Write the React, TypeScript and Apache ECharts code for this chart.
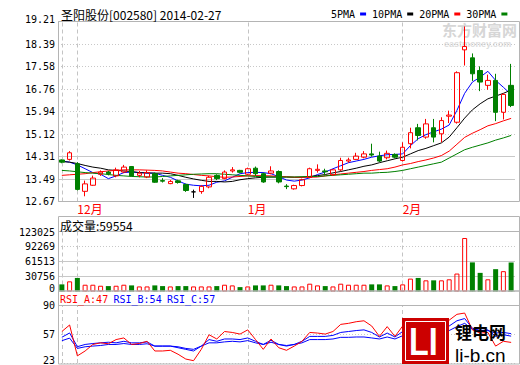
import React, { useEffect, useRef } from "react";
import * as echarts from "echarts";

const stockName = "圣阳股份";
const stockCode = "002580";

const dates = [
  "2013-11-28", "2013-11-29",
  "2013-12-02", "2013-12-03", "2013-12-04", "2013-12-05", "2013-12-06",
  "2013-12-09", "2013-12-10", "2013-12-11", "2013-12-12", "2013-12-13",
  "2013-12-16", "2013-12-17", "2013-12-18", "2013-12-19", "2013-12-20",
  "2013-12-23", "2013-12-24", "2013-12-25", "2013-12-26", "2013-12-27",
  "2013-12-30", "2013-12-31",
  "2014-01-02", "2014-01-03", "2014-01-06", "2014-01-07", "2014-01-08",
  "2014-01-09", "2014-01-10", "2014-01-13", "2014-01-14", "2014-01-15",
  "2014-01-16", "2014-01-17", "2014-01-20", "2014-01-21", "2014-01-22",
  "2014-01-23", "2014-01-24", "2014-01-27", "2014-01-28", "2014-01-29",
  "2014-02-07", "2014-02-10", "2014-02-11", "2014-02-12", "2014-02-13",
  "2014-02-14", "2014-02-17", "2014-02-18", "2014-02-19", "2014-02-20",
  "2014-02-21", "2014-02-24", "2014-02-25", "2014-02-26", "2014-02-27",
];

const opens = [14.18, 14.20, 14.04, 13.04, 13.26, 13.66, 13.74, 13.60, 13.74, 13.94,
  13.62, 13.56, 13.68, 13.43, 13.32, 13.42, 13.29, 13.02, 13.03, 13.20,
  13.62, 13.50, 13.78, 13.80, 13.66, 13.88, 13.68, 13.70, 13.76, 13.23,
  13.13, 13.25, 13.55, 13.80, 13.78, 13.64, 13.82, 14.14, 14.20, 14.28,
  14.40, 14.32, 14.26, 14.38, 14.16, 14.77, 15.35, 15.01, 15.35, 15.13,
  15.77, 15.55, 18.18, 17.89, 17.43, 16.89, 17.07, 15.91, 16.89];
const closes = [14.10, 14.44, 13.11, 13.31, 13.52, 13.74, 13.68, 13.82, 13.92, 13.60,
  13.70, 13.72, 13.37, 13.41, 13.40, 13.36, 13.07, 13.02, 13.22, 13.55,
  13.50, 13.74, 13.82, 13.73, 13.86, 13.68, 13.38, 13.78, 13.38, 13.21,
  13.25, 13.46, 13.86, 13.84, 13.75, 13.82, 14.16, 14.18, 14.32, 14.40,
  14.36, 14.14, 14.42, 14.28, 14.64, 15.17, 15.07, 15.49, 15.01, 15.61,
  15.81, 17.35, 18.30, 17.31, 17.01, 17.07, 15.91, 16.56, 16.16];
const lows = [14.06, 14.16, 13.07, 12.86, 13.24, 13.60, 13.62, 13.55, 13.70, 13.58,
  13.55, 13.52, 13.35, 13.36, 13.30, 13.32, 13.02, 12.80, 12.95, 13.15,
  13.45, 13.48, 13.72, 13.70, 13.62, 13.60, 13.35, 13.66, 13.33, 13.12,
  13.10, 13.22, 13.52, 13.72, 13.62, 13.60, 13.78, 14.08, 14.18, 14.24,
  14.30, 14.10, 14.20, 14.24, 14.12, 14.60, 14.89, 14.95, 14.82, 14.82,
  15.52, 15.50, 17.61, 17.05, 16.68, 16.73, 15.59, 15.65, 16.10];
const highs = [14.20, 14.50, 14.10, 13.43, 13.61, 13.80, 13.78, 13.90, 14.00, 13.96,
  13.78, 13.80, 13.72, 13.52, 13.45, 13.46, 13.32, 13.10, 13.26, 13.60,
  13.66, 13.80, 13.92, 13.82, 13.90, 13.94, 13.72, 13.95, 13.80, 13.30,
  13.28, 13.50, 13.90, 14.02, 13.86, 13.85, 14.26, 14.26, 14.44, 14.50,
  14.77, 14.48, 14.52, 14.42, 14.82, 15.35, 15.49, 15.67, 15.67, 15.73,
  15.97, 17.40, 19.03, 18.05, 17.58, 17.28, 17.31, 16.60, 17.67];

const volumes = [14600, 20800, 27800, 13900, 13900, 11800, 11100, 11800, 13900, 12500,
  10400, 10400, 12500, 11100, 10400, 11100, 11100, 10400, 10400, 10400,
  11100, 13900, 12500, 9000, 10400, 12500, 12500, 13900, 12500, 11100,
  10400, 10400, 16000, 12500, 11100, 10400, 16000, 13900, 13900, 13900,
  14600, 14600, 12500, 11100, 14600, 26400, 27800, 22900, 22900, 22900,
  25000, 36800, 109700, 59700, 38200, 25000, 45800, 41700, 59554];

const ma5 = [14.14, 14.10, 14.00, 13.86, 13.72, 13.66, 13.50, 13.60, 13.72, 13.74,
  13.72, 13.70, 13.70, 13.62, 13.55, 13.42, 13.30, 13.26, 13.24, 13.26,
  13.37, 13.42, 13.55, 13.68, 13.72, 13.73, 13.72, 13.68, 13.57, 13.45,
  13.41, 13.45, 13.53, 13.65, 13.74, 13.86, 13.97, 14.08, 14.14, 14.20,
  14.28, 14.33, 14.37, 14.38, 14.40, 14.70, 14.95, 15.10, 15.20, 15.30,
  15.45, 15.98, 16.60, 17.01, 17.19, 17.40, 17.07, 16.82, 16.56];
const ma10 = [14.12, 14.10, 14.05, 13.98, 13.92, 13.88, 13.82, 13.80, 13.78, 13.76,
  13.72, 13.71, 13.70, 13.70, 13.68, 13.62, 13.55, 13.49, 13.44, 13.40,
  13.40, 13.38, 13.40, 13.46, 13.50, 13.53, 13.55, 13.56, 13.56, 13.56,
  13.55, 13.55, 13.58, 13.61, 13.65, 13.71, 13.76, 13.82, 13.88, 13.95,
  14.00, 14.08, 14.15, 14.22, 14.28, 14.40, 14.52, 14.60, 14.70, 14.80,
  15.01, 15.35, 15.70, 16.00, 16.22, 16.40, 16.50, 16.60, 16.72];
const ma20 = [13.62, 13.64, 13.66, 13.68, 13.72, 13.75, 13.78, 13.80, 13.82, 13.82,
  13.82, 13.81, 13.80, 13.78, 13.74, 13.70, 13.68, 13.65, 13.62, 13.60,
  13.57, 13.55, 13.56, 13.58, 13.60, 13.61, 13.61, 13.60, 13.58, 13.57,
  13.55, 13.55, 13.55, 13.56, 13.60, 13.64, 13.67, 13.70, 13.73, 13.76,
  13.80, 13.83, 13.86, 13.92, 14.00, 14.05, 14.12, 14.18, 14.25, 14.34,
  14.50, 14.75, 15.00, 15.15, 15.28, 15.42, 15.50, 15.60, 15.69];
const ma30 = [13.80, 13.78, 13.75, 13.72, 13.70, 13.68, 13.65, 13.62, 13.60, 13.58,
  13.57, 13.56, 13.56, 13.58, 13.60, 13.62, 13.64, 13.66, 13.67, 13.68,
  13.68, 13.66, 13.64, 13.62, 13.60, 13.58, 13.57, 13.56, 13.56, 13.56,
  13.56, 13.57, 13.58, 13.58, 13.60, 13.62, 13.64, 13.66, 13.68, 13.70,
  13.70, 13.72, 13.73, 13.76, 13.80, 13.86, 13.92, 13.98, 14.04, 14.10,
  14.25, 14.40, 14.55, 14.64, 14.72, 14.80, 14.90, 14.98, 15.07];

const rsiA = [59.7, 67.3, 31.3, 37.0, 44.6, 46.5, 45.4, 50.3, 52.2, 44.6,
  45.7, 48.3, 37.0, 37.0, 37.8, 33.2, 27.6, 25.7, 38.9, 55.9,
  51.0, 59.7, 58.6, 56.7, 61.6, 50.3, 38.9, 51.0, 40.8, 37.8,
  42.7, 48.3, 58.6, 57.9, 56.7, 59.7, 68.0, 69.2, 71.1, 72.2,
  66.1, 54.0, 65.4, 54.0, 66.1, 70.0, 65.0, 72.0, 66.0, 73.0,
  72.9, 79.7, 81.2, 61.6, 57.9, 58.6, 42.7, 48.3, 47.0];
const rsiB = [53.0, 58.0, 42.0, 44.6, 45.7, 46.5, 47.2, 46.5, 48.3, 46.5,
  46.5, 47.6, 42.7, 42.7, 42.7, 40.8, 38.9, 37.0, 42.7, 50.3,
  48.3, 51.0, 51.0, 50.3, 52.2, 48.3, 44.6, 49.5, 44.6, 42.7,
  44.6, 48.3, 54.0, 54.0, 54.0, 55.2, 58.6, 59.7, 60.8, 61.6,
  58.6, 53.3, 57.9, 53.3, 59.7, 62.0, 60.0, 63.0, 61.0, 64.0,
  66.1, 72.2, 74.8, 63.5, 60.8, 61.6, 54.0, 55.9, 54.3];
const rsiC = [49.0, 52.0, 40.0, 41.9, 42.7, 43.4, 44.6, 44.6, 45.7, 44.6,
  44.6, 45.4, 42.7, 42.7, 42.7, 41.9, 40.0, 38.9, 42.7, 46.5,
  46.5, 47.6, 48.3, 47.6, 49.1, 46.5, 44.6, 47.2, 44.6, 43.4,
  44.6, 46.5, 50.3, 50.3, 50.3, 51.0, 52.9, 52.9, 53.3, 53.3,
  52.2, 51.0, 53.3, 51.0, 54.8, 56.0, 55.0, 57.0, 56.0, 58.0,
  60.8, 65.4, 69.2, 62.4, 60.8, 60.8, 57.9, 58.6, 57.2];

const priceTicks = ["12.67", "13.49", "14.31", "15.12", "15.94", "16.76", "17.58", "18.39", "19.21"];
const volumeTicks = ["0", "30756", "61513", "92269", "123025"];
const rsiTicks = ["23", "57", "90"];
const maNames = ["5PMA", "10PMA", "20PMA", "30PMA"];
const rsiNames = ["RSI_A", "RSI_B", "RSI_C"];

const MONO = "DejaVu Sans Mono";
const CJK = "Noto Sans CJK SC";
const RED = "#ff0000";
const GREEN = "#008000";
const BLUE = "#0000ff";
const GRID_LEFT = 58;
const GRID_W = 457;
const BOX_RIGHT = 519;
const FRAME = "#b4b4b4";
const GRIDLINE = "#c8c8c8";

function axisFrom(ticks: string[]) {
  const min = parseFloat(ticks[0]);
  const max = parseFloat(ticks[ticks.length - 1]);
  const interval = (max - min) / (ticks.length - 1);
  return { min, max, interval };
}

function makeFormatter(ticks: string[], shiftUp: Record<number, number>) {
  const { min, interval } = axisFrom(ticks);
  return (v: number) => {
    const k = Math.round((v - min) / interval);
    const t = ticks[k] ?? "";
    const s = shiftUp[k];
    if (s === undefined) return t;
    return s > 0 ? `{u${s}|${t}}` : `{d${-s}|${t}}`;
  };
}

const richShift: Record<string, any> = {};
for (let s = 1; s <= 12; s++) {
  richShift["u" + s] = { padding: [0, 0, s * 2, 0], fontFamily: MONO, fontSize: 10, color: "#000" };
  richShift["d" + s] = { padding: [s * 2, 0, 0, 0], fontFamily: MONO, fontSize: 10, color: "#000" };
}

function buildOption() {
  const monthOf = (d: string) => parseInt(d.slice(5, 7), 10);
  const monthStarts = dates
    .map((d, i) => (i === 0 || monthOf(d) !== monthOf(dates[i - 1]) ? i : -1))
    .filter((i) => i >= 0);
  const labelIdx = monthStarts.filter((i) => i > 0);

  const pAx = axisFrom(priceTicks);
  const vAx = axisFrom(volumeTicks);
  const rAx = axisFrom(rsiTicks);

  const vLines = monthStarts.map((i) => ({ xAxis: dates[i] }));
  const dashStyle = { color: "#c4c4c4", type: [4, 3] as any, width: 1 };

  const mkX = (g: number, showLabel: boolean) => ({
    type: "category",
    gridIndex: g,
    data: dates,
    boundaryGap: true,
    axisLine: { show: false },
    axisTick: { show: false },
    splitLine: { show: false },
    axisLabel: {
      show: showLabel,
      interval: (idx: number) => labelIdx.includes(idx),
      formatter: (v: string) => `${monthOf(v)}月`,
      color: RED,
      fontSize: 12,
      fontFamily: CJK,
      align: "left",
      margin: 1,
    },
  });

  const mkY = (g: number, ax: { min: number; max: number; interval: number }, ticks: string[], shift: Record<number, number>) => ({
    type: "value",
    gridIndex: g,
    min: ax.min,
    max: ax.max,
    interval: ax.interval,
    axisLine: { show: false },
    axisTick: { show: false },
    axisLabel: {
      formatter: makeFormatter(ticks, shift),
      color: "#000",
      fontSize: 10,
      fontFamily: MONO,
      margin: 3,
      rich: richShift,
    },
    splitLine: { show: true, lineStyle: { color: GRIDLINE, type: [1, 2] as any, width: 1 } },
  });

  const maColors = [BLUE, "#000000", RED, GREEN];
  const maData = [ma5, ma10, ma20, ma30];

  const solidPrice = [1, 2].map((k) => ({
    yAxis: pAx.min + k * pAx.interval,
    lineStyle: { color: GRIDLINE, type: "solid", width: 1 },
  }));
  const solidVol = [1, 2].map((k) => ({
    yAxis: vAx.min + k * vAx.interval,
    lineStyle: { color: GRIDLINE, type: "solid", width: 1 },
  }));

  const last = dates.length - 1;
  const rsiLast = [rsiA[last], rsiB[last], rsiC[last]].map((v) => Math.round(v));
  const rsiColors = [RED, BLUE, BLUE];
  const rsiX = [60, 113.5, 167];

  const series: any[] = [];
  maData.forEach((d, i) => {
    series.push({
      name: maNames[i],
      type: "line",
      xAxisIndex: 0,
      yAxisIndex: 0,
      data: d,
      symbol: "none",
      color: maColors[i],
      itemStyle: { color: maColors[i] },
      lineStyle: { color: maColors[i], width: 1 },
      z: 3,
    });
  });
  series.push({
    name: "K",
    type: "candlestick",
    xAxisIndex: 0,
    yAxisIndex: 0,
    barWidth: 5,
    data: dates.map((_, i) => [opens[i], closes[i], lows[i], highs[i]]),
    itemStyle: {
      color: "rgba(255,255,255,0)",
      color0: GREEN,
      borderColor: RED,
      borderColor0: GREEN,
      borderColorDoji: "#000000",
      borderWidth: 1,
    },
    z: 4,
    markLine: {
      silent: true,
      symbol: ["none", "none"],
      label: { show: false },
      lineStyle: dashStyle,
      data: [...vLines, ...solidPrice],
      z: 1,
    },
  });
  series.push({
    name: "VOL",
    type: "bar",
    xAxisIndex: 1,
    yAxisIndex: 1,
    barWidth: 5,
    data: volumes.map((v, i) => ({
      value: v,
      itemStyle:
        closes[i] >= opens[i]
          ? { color: "rgba(255,255,255,0)", borderColor: RED, borderWidth: 1 }
          : { color: GREEN, borderColor: GREEN, borderWidth: 0 },
    })),
    z: 4,
    markLine: {
      silent: true,
      symbol: ["none", "none"],
      label: { show: false },
      lineStyle: dashStyle,
      data: [...vLines, ...solidVol],
      z: 1,
    },
  });
  [rsiA, rsiB, rsiC].forEach((d, i) => {
    series.push({
      name: rsiNames[i],
      type: "line",
      xAxisIndex: 2,
      yAxisIndex: 2,
      data: d,
      symbol: "none",
      color: rsiColors[i],
      lineStyle: { color: rsiColors[i], width: 1 },
      z: 3 + (2 - i),
      markLine:
        i === 0
          ? {
              silent: true,
              symbol: ["none", "none"],
              label: { show: false },
              lineStyle: dashStyle,
              data: vLines,
              z: 1,
            }
          : undefined,
    });
  });

  const frame = (y: number, h: number) => ({
    type: "rect",
    shape: { x: GRID_LEFT + 0.5, y, width: BOX_RIGHT - GRID_LEFT, height: h },
    style: { fill: "none", stroke: FRAME, lineWidth: 1 },
    silent: true,
    z: 10,
  });
  const sep = (y: number) => ({
    type: "line",
    shape: { x1: GRID_LEFT + 0.5, y1: y, x2: BOX_RIGHT + 0.5, y2: y },
    style: { stroke: FRAME, lineWidth: 1 },
    silent: true,
    z: 10,
  });

  const graphic: any[] = [
    {
      type: "text",
      x: 442,
      y: 29,
      z: 0,
      silent: true,
      style: { text: "东方财富网", fill: "#d6d6d6", font: `bold 15px "${CJK}"`, verticalAlign: "middle" },
    },
    {
      type: "text",
      x: 444,
      y: 44,
      z: 0,
      silent: true,
      style: { text: "eastmoney.com", fill: "#dcdcdc", font: `bold 9px "Liberation Sans"`, verticalAlign: "middle" },
    },
    frame(21.5, 180),
    frame(216.5, 74.5),
    frame(291, 73),
    sep(231.5),
    sep(305.5),
    {
      type: "text",
      x: 61,
      y: 14.5,
      z: 10,
      style: {
        text: `${stockName}[${stockCode}] ${dates[last]}`,
        fill: "#000",
        font: `12px "${CJK}"`,
        verticalAlign: "middle",
      },
    },
    {
      type: "text",
      x: 60,
      y: 225,
      z: 10,
      style: {
        text: `成交量:${volumes[last]}`,
        fill: "#000",
        font: `12px "${CJK}"`,
        verticalAlign: "middle",
      },
    },
    ...rsiNames.map((n, i) => ({
      type: "text",
      x: rsiX[i],
      y: 299,
      z: 10,
      style: {
        text: `${n}:${rsiLast[i]}`,
        fill: rsiColors[i],
        font: `10px "${MONO}"`,
        verticalAlign: "middle",
      },
    })),
    {
      type: "rect",
      z: 100,
      silent: true,
      shape: { x: 402, y: 318, width: 47, height: 46 },
      style: { fill: "#cc0000", stroke: "none" },
    },
    {
      type: "rect",
      z: 101,
      silent: true,
      shape: { x: 405.5, y: 321.5, width: 40, height: 39 },
      style: { fill: "none", stroke: "#ffffff", lineWidth: 1 },
    },
    {
      type: "text",
      z: 102,
      silent: true,
      x: 409,
      y: 341.5,
      scaleX: 0.85,
      style: {
        text: "LI",
        fill: "#ffffff",
        font: `bold 38px "Liberation Sans"`,
        verticalAlign: "middle",
      },
    },
    {
      type: "text",
      z: 102,
      silent: true,
      x: 455,
      y: 331,
      style: { text: "锂电网", fill: "#000", font: `bold 17px "${CJK}"`, verticalAlign: "middle" },
    },
    {
      type: "text",
      z: 102,
      silent: true,
      x: 455,
      y: 355,
      style: { text: "li-b.cn", fill: "#000", font: `19px "Liberation Sans"`, verticalAlign: "middle" },
    },
  ];

  return {
    animation: false,
    backgroundColor: "#ffffff",
    textStyle: { fontFamily: MONO },
    legend: {
      data: maNames,
      left: 331,
      top: 9,
      padding: 0,
      itemGap: 6,
      itemWidth: 6,
      itemHeight: 3,
      icon: "rect",
      align: "right",
      selectedMode: false,
      textStyle: { fontFamily: MONO, fontSize: 10, color: "#000" },
    },
    grid: [
      { left: GRID_LEFT, top: 21.5, width: GRID_W, height: 180 },
      { left: GRID_LEFT, top: 231.5, width: GRID_W, height: 60 },
      { left: GRID_LEFT, top: 305.5, width: GRID_W, height: 58.5 },
    ],
    xAxis: [mkX(0, true), mkX(1, false), mkX(2, false)],
    yAxis: [
      mkY(0, pAx, priceTicks, { 8: 2 }),
      mkY(1, vAx, volumeTicks, { 0: 3, 4: -1 }),
      mkY(2, rAx, rsiTicks, { 0: 3 }),
    ],
    series,
    graphic,
  };
}

export default function App() {
  const ref = useRef<HTMLDivElement>(null);
  useEffect(() => {
    if (!ref.current) return;
    const chart = echarts.init(ref.current, null, { renderer: "svg" });
    chart.setOption(buildOption() as any);
    return () => chart.dispose();
  }, []);
  return (
    <div
      ref={ref}
      style={{ position: "fixed", left: 0, top: 0, width: 520, height: 365, background: "#fff" }}
    />
  );
}
